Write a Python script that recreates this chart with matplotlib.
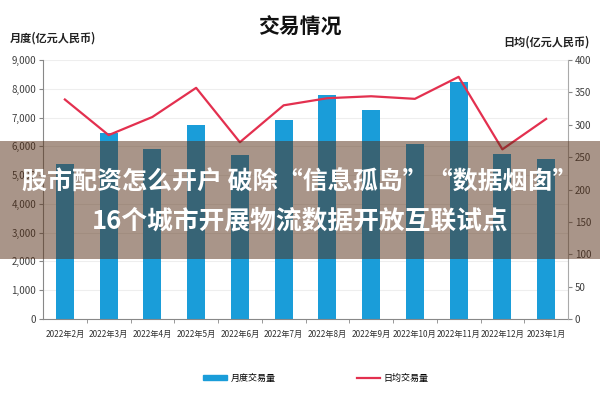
import matplotlib
matplotlib.use("Agg")
import matplotlib.pyplot as plt
from matplotlib.patches import Rectangle
from matplotlib.lines import Line2D
from matplotlib.patches import Patch

plt.rcParams['font.family'] = ['Noto Sans CJK SC', 'DejaVu Sans']

months = ["2022年2月", "2022年3月", "2022年4月", "2022年5月", "2022年6月", "2022年7月",
          "2022年8月", "2022年9月", "2022年10月", "2022年11月", "2022年12月", "2023年1月"]
monthly = [5400, 6450, 5900, 6750, 5700, 6900, 7800, 7250, 6080, 8250, 5750, 5550]
daily = [339, 284, 312, 357, 273, 330, 341, 344, 340, 374, 262, 309]

bar_color = "#1a9dd9"
line_color = "#e3304f"

fig = plt.figure(figsize=(6, 4), dpi=100)
ax = fig.add_axes([43 / 600, 81 / 400, 525 / 600, 259 / 400])
x = list(range(len(months)))
ax.bar(x, monthly, width=0.41, color=bar_color, zorder=2)
ax.set_xlim(-0.5, len(months) - 0.5)
ax.set_ylim(0, 9000)
ax.set_yticks(range(0, 9001, 1000))
ax.set_yticklabels([f"{v:,}" for v in range(0, 9001, 1000)], fontsize=7, color="#404040")
ax.grid(axis="y", color="#eeeeee", linewidth=0.8, zorder=0)
ax.set_xticks(x)
ax.set_xticklabels(months, fontsize=5.9, color="#303030")
ax.set_xticks([i + 0.5 for i in x[:-1]], minor=True)
ax.tick_params(axis="x", which="major", length=0, pad=8)
ax.tick_params(axis="x", which="minor", length=3, color="#888888")
ax.tick_params(axis="y", length=3, color="#888888", pad=2)
for s in ["top", "right"]:
    ax.spines[s].set_visible(False)
for s in ["left", "bottom"]:
    ax.spines[s].set_color("#888888")

ax2 = ax.twinx()
ax2.plot(x, daily, color=line_color, linewidth=1.6, zorder=3)
ax2.set_ylim(0, 400)
ax2.set_yticks(range(0, 401, 50))
ax2.tick_params(axis="y", labelsize=7, labelcolor="#404040", length=3, color="#888888", pad=2)
for s in ["top", "left", "bottom"]:
    ax2.spines[s].set_visible(False)
ax2.spines["right"].set_color("#aaaaaa")

fig.text(0.5, 0.932, "交易情况", ha="center", va="center", fontsize=15, fontweight="bold", color="#111111")
fig.text(10 / 600, 0.905, "月度(亿元人民币)", ha="left", va="center", fontsize=8, fontweight="bold", color="#222222")
fig.text(590 / 600, 0.895, "日均(亿元人民币)", ha="right", va="center", fontsize=8, fontweight="bold", color="#222222")

handles = [Patch(color=bar_color), Line2D([0], [0], color=line_color, linewidth=1.6)]
fig.legend(handles, ["月度交易量", "日均交易量"], loc="center", bbox_to_anchor=(0.527, 0.055),
           ncol=2, frameon=False, fontsize=6.5, columnspacing=9, handlelength=2.6,
           handleheight=0.6, handletextpad=0.4)

# translucent banner on top
fig.patches.append(Rectangle((0, 141 / 400), 1, 118 / 400, transform=fig.transFigure,
                             facecolor=(85 / 255, 45 / 255, 20 / 255), alpha=0.5, zorder=10))
fig.text(0.5, 1 - 183 / 400, "股市配资怎么开户 破除“信息孤岛”“数据烟囱”", ha="center", va="center",
         fontsize=18, fontweight="bold", color="white", zorder=11)
fig.text(0.5, 1 - 221 / 400, "16个城市开展物流数据开放互联试点", ha="center", va="center",
         fontsize=18.5, fontweight="bold", color="white", zorder=11)

fig.savefig("out.png", dpi=100)
